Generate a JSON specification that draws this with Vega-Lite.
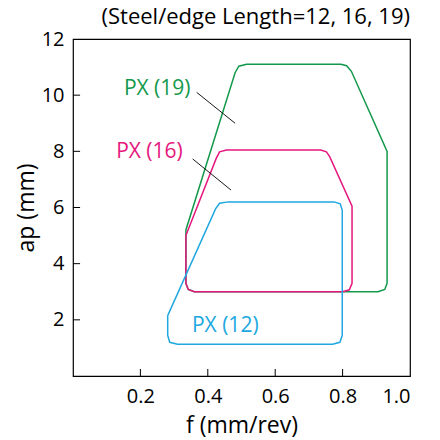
{
  "$schema": "https://vega.github.io/schema/vega-lite/v6.json",
  "width": 337,
  "height": 337,
  "autosize": "none",
  "padding": {"left": 73, "top": 39, "right": 30, "bottom": 64},
  "config": {
    "font": "Open Sans",
    "view": {"stroke": "black", "strokeWidth": 1.2},
    "axis": {"grid": false, "domain": false, "ticks": false, "labelColor": "black", "titleColor": "black", "labelFontSize": 20, "titleFontSize": 23, "titleFontWeight": "normal", "labelFont": "Open Sans", "titleFont": "Open Sans"}
  },
  "title": {"text": "(Steel/edge Length=12, 16, 19)", "anchor": "end", "fontSize": 22, "fontWeight": "normal", "font": "Open Sans", "color": "black", "offset": 0},
  "layer": [
    {
      "data": {"values": [
        {"s": "PX (19)", "o": 1, "f": 0.335, "ap": 3.3},
        {"s": "PX (19)", "o": 2, "f": 0.342, "ap": 3.08},
        {"s": "PX (19)", "o": 3, "f": 0.36, "ap": 3.0},
        {"s": "PX (19)", "o": 4, "f": 0.905, "ap": 3.0},
        {"s": "PX (19)", "o": 5, "f": 0.925, "ap": 3.08},
        {"s": "PX (19)", "o": 6, "f": 0.932, "ap": 3.3},
        {"s": "PX (19)", "o": 7, "f": 0.932, "ap": 8.0},
        {"s": "PX (19)", "o": 8, "f": 0.826, "ap": 10.85},
        {"s": "PX (19)", "o": 9, "f": 0.812, "ap": 11.05},
        {"s": "PX (19)", "o": 10, "f": 0.795, "ap": 11.1},
        {"s": "PX (19)", "o": 11, "f": 0.515, "ap": 11.1},
        {"s": "PX (19)", "o": 12, "f": 0.492, "ap": 11.03},
        {"s": "PX (19)", "o": 13, "f": 0.481, "ap": 10.8},
        {"s": "PX (19)", "o": 14, "f": 0.335, "ap": 5.2},
        {"s": "PX (19)", "o": 15, "f": 0.335, "ap": 3.3},
        {"s": "PX (16)", "o": 1, "f": 0.335, "ap": 5.0},
        {"s": "PX (16)", "o": 2, "f": 0.425, "ap": 7.75},
        {"s": "PX (16)", "o": 3, "f": 0.435, "ap": 7.98},
        {"s": "PX (16)", "o": 4, "f": 0.455, "ap": 8.05},
        {"s": "PX (16)", "o": 5, "f": 0.735, "ap": 8.05},
        {"s": "PX (16)", "o": 6, "f": 0.752, "ap": 7.98},
        {"s": "PX (16)", "o": 7, "f": 0.762, "ap": 7.8},
        {"s": "PX (16)", "o": 8, "f": 0.828, "ap": 6.05},
        {"s": "PX (16)", "o": 9, "f": 0.828, "ap": 3.3},
        {"s": "PX (16)", "o": 10, "f": 0.82, "ap": 3.07},
        {"s": "PX (16)", "o": 11, "f": 0.8, "ap": 3.0},
        {"s": "PX (16)", "o": 12, "f": 0.36, "ap": 3.0},
        {"s": "PX (16)", "o": 13, "f": 0.342, "ap": 3.08},
        {"s": "PX (16)", "o": 14, "f": 0.335, "ap": 3.3},
        {"s": "PX (16)", "o": 15, "f": 0.335, "ap": 5.0},
        {"s": "PX (12)", "o": 1, "f": 0.281, "ap": 2.15},
        {"s": "PX (12)", "o": 2, "f": 0.423, "ap": 5.95},
        {"s": "PX (12)", "o": 3, "f": 0.435, "ap": 6.15},
        {"s": "PX (12)", "o": 4, "f": 0.46, "ap": 6.2},
        {"s": "PX (12)", "o": 5, "f": 0.775, "ap": 6.2},
        {"s": "PX (12)", "o": 6, "f": 0.793, "ap": 6.13},
        {"s": "PX (12)", "o": 7, "f": 0.799, "ap": 5.9},
        {"s": "PX (12)", "o": 8, "f": 0.799, "ap": 1.45},
        {"s": "PX (12)", "o": 9, "f": 0.792, "ap": 1.2},
        {"s": "PX (12)", "o": 10, "f": 0.77, "ap": 1.13},
        {"s": "PX (12)", "o": 11, "f": 0.31, "ap": 1.13},
        {"s": "PX (12)", "o": 12, "f": 0.287, "ap": 1.2},
        {"s": "PX (12)", "o": 13, "f": 0.281, "ap": 1.45},
        {"s": "PX (12)", "o": 14, "f": 0.281, "ap": 2.15}
      ]},
      "mark": {"type": "line", "strokeWidth": 1.5, "clip": true},
      "encoding": {
        "x": {"field": "f", "type": "quantitative", "scale": {"domain": [0, 1]}, "axis": {"values": [0.2, 0.4, 0.6, 0.8, 1.0], "format": ".1f", "title": "f (mm/rev)", "labelPadding": 10, "titlePadding": 8}},
        "y": {"field": "ap", "type": "quantitative", "scale": {"domain": [0, 12]}, "axis": {"values": [2, 4, 6, 8, 10, 12], "title": "ap (mm)", "labelPadding": 9, "titlePadding": 3}},
        "color": {"field": "s", "type": "nominal", "scale": {"domain": ["PX (19)", "PX (16)", "PX (12)"], "range": ["#13994b", "#e5177e", "#21a8e0"]}, "legend": null},
        "detail": {"field": "s"},
        "order": {"field": "o", "type": "quantitative"}
      }
    },
    {
      "data": {"values": [
        {"f": 0.2, "ap": 0, "f2": 0.2, "ap2": 0.25},
        {"f": 0.4, "ap": 0, "f2": 0.4, "ap2": 0.25},
        {"f": 0.6, "ap": 0, "f2": 0.6, "ap2": 0.25},
        {"f": 0.8, "ap": 0, "f2": 0.8, "ap2": 0.25},
        {"f": 0, "ap": 2, "f2": 0.021, "ap2": 2},
        {"f": 0, "ap": 4, "f2": 0.021, "ap2": 4},
        {"f": 0, "ap": 6, "f2": 0.021, "ap2": 6},
        {"f": 0, "ap": 8, "f2": 0.021, "ap2": 8},
        {"f": 0, "ap": 10, "f2": 0.021, "ap2": 10}
      ]},
      "mark": {"type": "rule", "color": "black", "strokeWidth": 1},
      "encoding": {
        "x": {"field": "f", "type": "quantitative"},
        "y": {"field": "ap", "type": "quantitative"},
        "x2": {"field": "f2"},
        "y2": {"field": "ap2"}
      }
    },
    {
      "data": {"values": [
        {"f": 0.367, "ap": 10.1, "f2": 0.481, "ap2": 9.0},
        {"f": 0.355, "ap": 7.73, "f2": 0.469, "ap2": 6.62}
      ]},
      "mark": {"type": "rule", "color": "black", "strokeWidth": 0.9},
      "encoding": {
        "x": {"field": "f", "type": "quantitative"},
        "y": {"field": "ap", "type": "quantitative"},
        "x2": {"field": "f2"},
        "y2": {"field": "ap2"}
      }
    },
    {
      "data": {"values": [
        {"s": "PX (19)", "f": 0.151, "ap": 10.22},
        {"s": "PX (16)", "f": 0.128, "ap": 7.98},
        {"s": "PX (12)", "f": 0.353, "ap": 1.78}
      ]},
      "mark": {"type": "text", "align": "left", "baseline": "middle", "fontSize": 21, "font": "Open Sans"},
      "encoding": {
        "x": {"field": "f", "type": "quantitative"},
        "y": {"field": "ap", "type": "quantitative"},
        "text": {"field": "s"},
        "color": {"field": "s", "type": "nominal", "legend": null}
      }
    }
  ]
}
